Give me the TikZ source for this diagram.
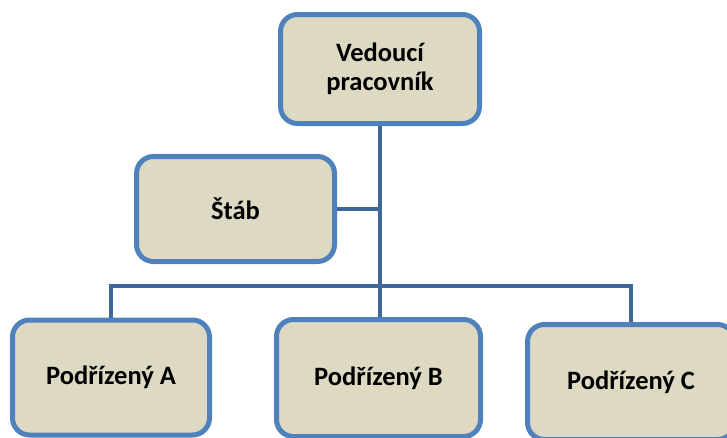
\documentclass[tikz,border=0pt]{standalone}
\usepackage{fontspec}
\setmainfont{Carlito}
\definecolor{boxborder}{HTML}{4F81BD}
\definecolor{boxfill}{HTML}{DDD9C3}
\definecolor{linkcol}{HTML}{41679A}
\begin{document}
\begin{tikzpicture}[x=1pt,y=-1pt,
  orgbox/.style={draw=boxborder,fill=boxfill,line width=5pt,rounded corners=17pt,
    inner sep=0pt,align=center,font=\bfseries\fontsize{26.5}{29}\selectfont},
  link/.style={draw=linkcol,line width=4.5pt}]
\useasboundingbox (0,0) rectangle (727,437);
\begin{scope}
\clip (0,0) rectangle (727,437);
\node[orgbox,minimum width=199pt,minimum height=109pt] (boss) at (380,69) {Vedoucí\\pracovník};
\node[orgbox,minimum width=198pt,minimum height=105pt] (stab) at (235.5,209) {Štáb};
\node[orgbox,minimum width=197pt,minimum height=115pt] (a) at (111,377.5) {Podřízený A};
\node[orgbox,minimum width=204pt,minimum height=117pt] (b) at (378.5,378) {Podřízený B};
\node[orgbox,minimum width=207pt,minimum height=115pt] (c) at (631,382) {Podřízený C};
\end{scope}
\coordinate (bus) at (380,286);
\draw[link] (boss.south) -- (bus);
\draw[link] (stab.east) -- (stab.east -| boss.south);
\draw[link] (a.north) |- (bus) -| (c.north);
\draw[link] (bus) -- (bus |- b.north);
\end{tikzpicture}
\end{document}
